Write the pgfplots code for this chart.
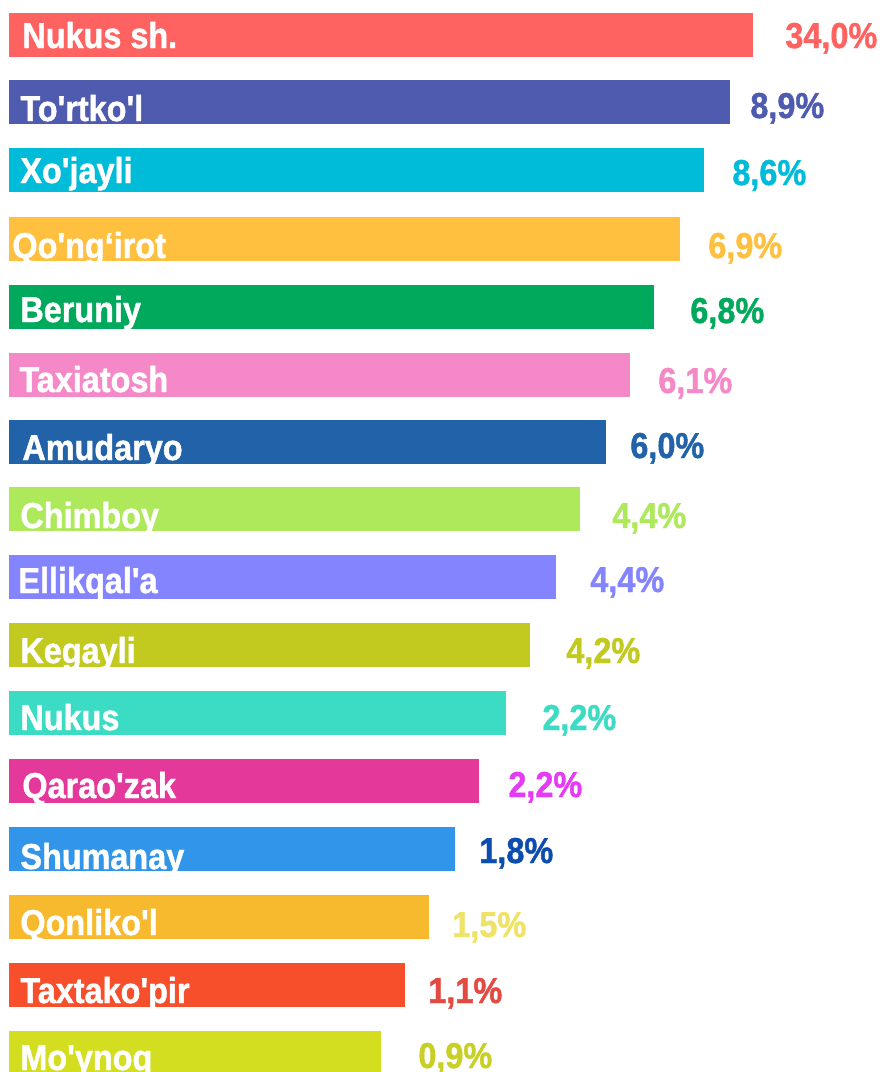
\documentclass[border=0pt]{standalone}
\usepackage{fontspec}
\setmainfont{Liberation Sans}
\newfontfamily\cond[FakeStretch=0.9,FakeBold=1.2]{Liberation Sans}
\usepackage{pgfplots}
\pgfplotsset{compat=1.18}
\definecolor{b1}{HTML}{FF6361}\definecolor{v1}{HTML}{FF6361}
\definecolor{b2}{HTML}{4E5BAF}\definecolor{v2}{HTML}{4E5BAF}
\definecolor{b3}{HTML}{00BCD8}\definecolor{v3}{HTML}{00BCD8}
\definecolor{b4}{HTML}{FFC03F}\definecolor{v4}{HTML}{FFC03F}
\definecolor{b5}{HTML}{00A95C}\definecolor{v5}{HTML}{00A95C}
\definecolor{b6}{HTML}{F589C8}\definecolor{v6}{HTML}{F589C8}
\definecolor{b7}{HTML}{2262A9}\definecolor{v7}{HTML}{2262A9}
\definecolor{b8}{HTML}{ADE95A}\definecolor{v8}{HTML}{ADE95A}
\definecolor{b9}{HTML}{8584FF}\definecolor{v9}{HTML}{8584FF}
\definecolor{b10}{HTML}{C2C91F}\definecolor{v10}{HTML}{C2C91F}
\definecolor{b11}{HTML}{3CDCC4}\definecolor{v11}{HTML}{3CDCC4}
\definecolor{b12}{HTML}{E4399A}\definecolor{v12}{HTML}{E53BF5}
\definecolor{b13}{HTML}{3195EA}\definecolor{v13}{HTML}{0D4DB0}
\definecolor{b14}{HTML}{F7BA2E}\definecolor{v14}{HTML}{EEE366}
\definecolor{b15}{HTML}{F74F2B}\definecolor{v15}{HTML}{E24B42}
\definecolor{b16}{HTML}{D4DE20}\definecolor{v16}{HTML}{C8D025}
\newcommand{\onebar}[3]{\addplot[xbar, fill=#3, draw=none, bar width=22pt] coordinates {(#1,#2)};}
\newcommand{\lab}[3]{\node[anchor=base west, inner sep=0pt, text=white, font=\cond\bfseries\fontsize{18pt}{20pt}\selectfont] at (axis cs:#1,#2) {#3};}
\newcommand{\val}[4]{\node[anchor=base west, inner sep=0pt, text=#3, font=\cond\bfseries\fontsize{18pt}{20pt}\selectfont] at (axis cs:#1,#2) {#4};}
\begin{document}
\begin{tikzpicture}
\begin{axis}[name=ax,
  width=442pt, height=536pt, scale only axis,
  xmin=-9, xmax=875, ymin=0, ymax=1072, y dir=reverse,
  axis lines=none, clip=true]
% bar lengths (px) at bar centres
\onebar{744}{35}{b1}
\onebar{721}{102}{b2}
\onebar{695}{170}{b3}
\onebar{671}{239}{b4}
\onebar{645}{307}{b5}
\onebar{621}{375}{b6}
\onebar{597}{442}{b7}
\onebar{571}{509}{b8}
\onebar{547}{577}{b9}
\onebar{521}{645}{b10}
\onebar{497}{713}{b11}
\onebar{470}{781}{b12}
\onebar{446}{849}{b13}
\onebar{420}{917}{b14}
\onebar{396}{985}{b15}
\onebar{372}{1053}{b16}
\lab{13}{48}{Nukus sh.}
\lab{11}{121}{To'rtko'l}
\lab{11}{183}{Xo'jayli}
\lab{3}{258}{Qo'ng‘irot}
\lab{11}{322}{Beruniy}
\lab{10}{392}{Taxiatosh}
\lab{13}{460}{Amudaryo}
\lab{11}{528}{Chimboy}
\lab{9}{593}{Ellikqal'a}
\lab{11}{663}{Kegayli}
\lab{11}{730}{Nukus}
\lab{13}{798}{Qarao'zak}
\lab{11}{869}{Shumanay}
\lab{11}{935}{Qonliko'l}
\lab{11}{1003}{Taxtako'pir}
\lab{11}{1070}{Mo'ynoq}
\val{776}{48}{v1}{34,0\%}
\val{741}{118}{v2}{8,9\%}
\val{723}{185}{v3}{8,6\%}
\val{699}{258}{v4}{6,9\%}
\val{681}{323}{v5}{6,8\%}
\val{649}{393}{v6}{6,1\%}
\val{621}{458}{v7}{6,0\%}
\val{603}{528}{v8}{4,4\%}
\val{581}{592}{v9}{4,4\%}
\val{557}{663}{v10}{4,2\%}
\val{533}{730}{v11}{2,2\%}
\val{499}{797}{v12}{2,2\%}
\val{470}{863}{v13}{1,8\%}
\val{443}{937}{v14}{1,5\%}
\val{419}{1003}{v15}{1,1\%}
\val{409}{1068}{v16}{0,9\%}
\end{axis}
\pgfresetboundingbox
\path[use as bounding box] (ax.south west) rectangle (ax.north east);
\end{tikzpicture}
\end{document}
